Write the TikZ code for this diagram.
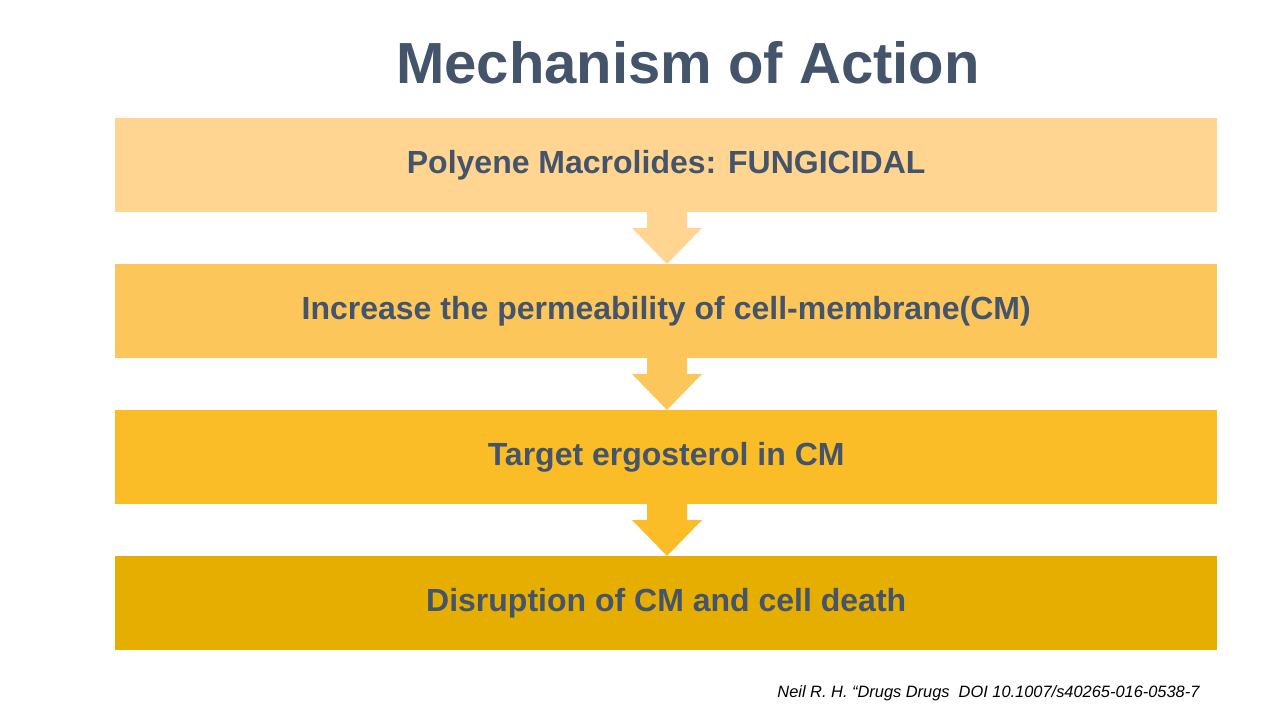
\documentclass[tikz,border=0pt]{standalone}
\usepackage{fontspec}
\setmainfont{Liberation Sans}
\definecolor{txt}{HTML}{44546A}
\definecolor{cA}{HTML}{FFD591}
\definecolor{cB}{HTML}{FDC65B}
\definecolor{cC}{HTML}{FBBD27}
\definecolor{cD}{HTML}{E6AE00}
\tikzset{
  stepbox/.style={minimum width=1102pt, minimum height=94pt, inner sep=0pt, font=\fontsize{32}{36}\selectfont\bfseries, text=txt, anchor=north west},
}
\newcommand{\downarrowshape}[3]{% top y, bottom y, colour
  \fill[#3] (647,-#1) -- (687,-#1) -- (687,-#1-16) -- (702,-#1-16) -- (667,-#2) -- (632,-#1-16) -- (647,-#1-16) -- cycle;}
\begin{document}
\begin{tikzpicture}[x=1pt,y=1pt]
\useasboundingbox (0,0) rectangle (1280,-720);
\fill[white] (0,0) rectangle (1280,-720);
\node[font=\fontsize{58}{64}\selectfont\bfseries, text=txt] (title) at (688,-63) {Mechanism of Action};
\node[stepbox, fill=cA] (b1) at (115,-118) {Polyene Macrolides: FUNGICIDAL};
\node[stepbox, fill=cB] (b2) at (115,-264) {Increase the permeability of cell-membrane(CM)};
\node[stepbox, fill=cC] (b3) at (115,-410) {Target ergosterol in CM};
\node[stepbox, fill=cD] (b4) at (115,-556) {Disruption of CM and cell death};
\downarrowshape{212}{264}{cA}
\downarrowshape{358}{410}{cB}
\downarrowshape{504}{556}{cC}
\node[anchor=base east, font=\fontsize{16.4}{19}\selectfont\itshape] (cite) at (1203,-697) {Neil R. H. “Drugs Drugs\ \ DOI 10.1007/s40265-016-0538-7};
\end{tikzpicture}
\end{document}
